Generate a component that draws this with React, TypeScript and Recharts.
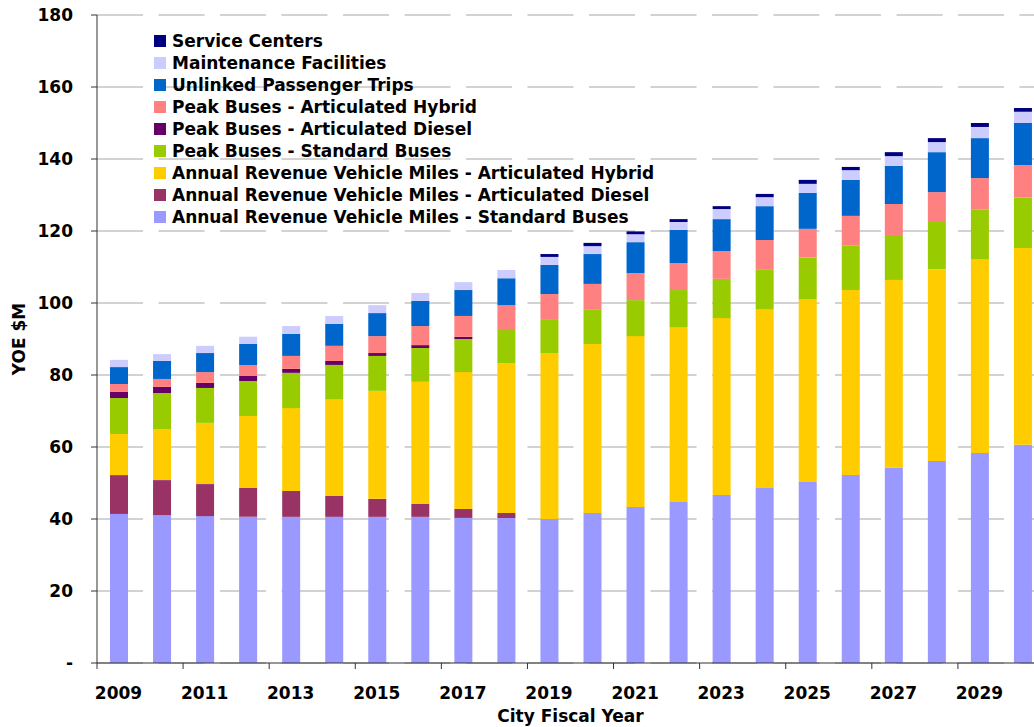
import React from 'react';
import { BarChart, Bar, XAxis, YAxis, CartesianGrid, Legend, Label } from 'recharts';

const years = ['2009','2010','2011','2012','2013','2014','2015','2016','2017','2018','2019','2020','2021','2022','2023','2024','2025','2026','2027','2028','2029','2030'];

const arvmStandard = [41.4,41.1,40.8,40.6,40.6,40.6,40.6,40.6,40.3,40.3,40.0,41.7,43.3,44.7,46.7,48.6,50.3,52.2,54.3,56.1,58.3,60.6];
const arvmArticDiesel = [10.8,9.7,8.9,8.0,7.2,5.8,5.0,3.6,2.5,1.4,0,0,0,0,0,0,0,0,0,0,0,0];
const arvmArticHybrid = [11.4,14.2,17.0,20.0,23.0,26.9,30.0,33.9,38.0,41.6,46.1,46.9,47.5,48.6,49.1,49.7,50.8,51.4,52.1,53.3,53.9,54.7];
const peakStandard = [10.0,10.0,9.7,9.7,9.8,9.5,9.7,9.4,9.2,9.5,9.2,9.5,10.0,10.3,10.9,11.1,11.5,12.3,12.5,13.1,13.7,14.0];
const peakArticDiesel = [1.7,1.7,1.4,1.4,1.1,1.1,0.8,0.8,0.6,0,0,0,0,0,0,0,0,0,0,0,0,0];
const peakArticHybrid = [2.2,2.2,3.0,3.1,3.6,4.2,4.7,5.3,5.8,6.6,7.2,7.2,7.5,7.5,7.7,8.1,8.0,8.3,8.6,8.3,8.8,9.0];
const unlinkedTrips = [4.7,5.0,5.3,5.8,6.1,6.1,6.4,7.0,7.2,7.5,8.1,8.3,8.6,9.2,8.9,9.4,10.0,10.0,10.6,11.1,11.1,11.7];
const maintenance = [2.0,1.9,2.0,2.0,2.2,2.2,2.2,2.2,2.2,2.3,2.2,2.2,2.2,2.2,2.8,2.5,2.5,2.7,2.7,2.8,3.1,3.1];
const serviceCenters = [0,0,0,0,0,0,0,0,0,0,0.8,0.9,0.8,0.8,0.8,0.9,1.1,0.9,1.1,1.1,1.1,1.1];

const yTicks = [0,20,40,60,80,100,120,140,160,180];

// bottom to top stacking order
const series = [
  { key: 'arvmStandard', name: 'Annual Revenue Vehicle Miles - Standard Buses', color: '#9999FF', values: arvmStandard },
  { key: 'arvmArticDiesel', name: 'Annual Revenue Vehicle Miles - Articulated Diesel', color: '#993366', values: arvmArticDiesel },
  { key: 'arvmArticHybrid', name: 'Annual Revenue Vehicle Miles - Articulated Hybrid', color: '#FFCC00', values: arvmArticHybrid },
  { key: 'peakStandard', name: 'Peak Buses - Standard Buses', color: '#99CC00', values: peakStandard },
  { key: 'peakArticDiesel', name: 'Peak Buses - Articulated Diesel', color: '#660066', values: peakArticDiesel },
  { key: 'peakArticHybrid', name: 'Peak Buses - Articulated Hybrid', color: '#FF8080', values: peakArticHybrid },
  { key: 'unlinkedTrips', name: 'Unlinked Passenger Trips', color: '#0066CC', values: unlinkedTrips },
  { key: 'maintenance', name: 'Maintenance Facilities', color: '#CCCCFF', values: maintenance },
  { key: 'serviceCenters', name: 'Service Centers', color: '#000080', values: serviceCenters },
];

const data = years.map((year, i) => {
  const row: Record<string, number | string> = { year };
  series.forEach((s) => { row[s.key] = s.values[i]; });
  return row;
});

const FONT = '"DejaVu Sans", Verdana, sans-serif';
const CHART_W = 1054;
const CHART_H = 727;
const Y_AXIS_W = 97;
const MARGIN = { top: 15, right: 10, left: 0, bottom: 0 };
const PLOT_W = CHART_W - MARGIN.left - MARGIN.right - Y_AXIS_W;
const BAND = PLOT_W / years.length;

const XTick = (props: any) => {
  const { x, y, payload } = props;
  const lx = x - BAND / 2;
  return (
    <g>
      <line x1={lx} x2={lx} y1={y} y2={y + 6} stroke="#333" strokeWidth={1} />
      <text x={x} y={y + 36} textAnchor="middle" fontFamily={FONT} fontWeight="bold" fontSize={17} fill="#000">
        {payload.value}
      </text>
    </g>
  );
};

const LegendContent = () => (
  <div style={{ fontFamily: FONT, fontWeight: 'bold', fontSize: 17, color: '#000' }}>
    {[...series].reverse().map((s) => (
      <div key={s.key} style={{ display: 'flex', alignItems: 'center', height: 22, whiteSpace: 'nowrap' }}>
        <span style={{ display: 'inline-block', width: 12, height: 12, background: s.color, marginRight: 6 }} />
        <span style={{ lineHeight: '22px' }}>{s.name}</span>
      </div>
    ))}
  </div>
);

const YLabel = (props: any) => {
  const vb = props.viewBox || { y: 15, height: 648 };
  const cy = vb.y + vb.height / 2;
  const cx = 25;
  return (
    <text x={cx} y={cy} transform={`rotate(-90, ${cx}, ${cy})`} textAnchor="middle" fontFamily={FONT} fontWeight="bold" fontSize={17} fill="#000">
      YOE $M
    </text>
  );
};

const XLabel = (props: any) => {
  const vb = props.viewBox || { x: 97, width: PLOT_W, y: 663 };
  const cx = vb.x + vb.width / 2;
  return (
    <text x={cx} y={722} textAnchor="middle" fontFamily={FONT} fontWeight="bold" fontSize={17} fill="#000">
      City Fiscal Year
    </text>
  );
};

export default function App() {
  return (
    <div style={{ position: 'absolute', left: 0, top: 0, width: 1034, height: 727, overflow: 'hidden', background: '#fff' }}>
      <BarChart width={CHART_W} height={CHART_H} data={data} margin={MARGIN} barSize={18}>
        <CartesianGrid vertical={false} stroke="#c4c4c4" strokeWidth={1.5} strokeDasharray="46 15.5" />
        <XAxis
          dataKey="year"
          interval={1}
          height={64}
          tickSize={0}
          tickMargin={0}
          tickLine={false}
          axisLine={{ stroke: '#333' }}
          tick={<XTick />}
        >
          <Label content={<XLabel />} />
        </XAxis>
        <YAxis
          width={Y_AXIS_W}
          domain={[0, 180]}
          ticks={yTicks}
          interval={0}
          tickSize={6}
          tickMargin={18}
          axisLine={{ stroke: '#333' }}
          tickLine={{ stroke: '#333' }}
          tick={{ fontFamily: FONT, fontWeight: 'bold', fontSize: 17, fill: '#000' }}
          tickFormatter={(v: number) => (v === 0 ? '-' : String(v))}
        >
          <Label content={<YLabel />} />
        </YAxis>
        <Legend
          layout="horizontal"
          verticalAlign="middle"
          align="center"
          content={<LegendContent />}
          wrapperStyle={{ position: 'absolute', left: 154, top: 30, width: 'auto', height: 'auto' }}
        />
        {series.map((s) => (
          <Bar key={s.key} dataKey={s.key} name={s.name} stackId="a" fill={s.color} isAnimationActive={false} />
        ))}
      </BarChart>
    </div>
  );
}
